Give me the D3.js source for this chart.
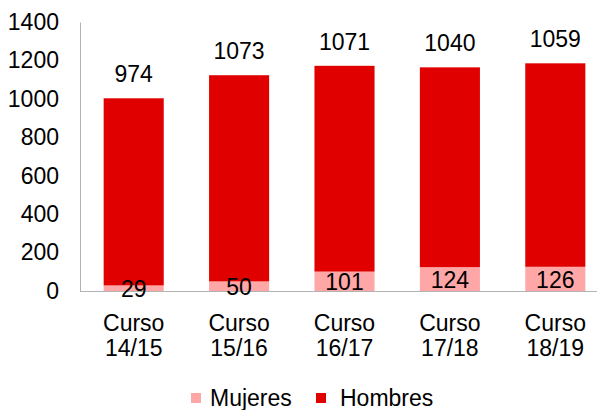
<!DOCTYPE html>
<html>
<head>
<meta charset="utf-8">
<script src="https://cdn.jsdelivr.net/npm/d3@7"></script>
<style>
  body { margin: 0; background: #fff; }
  svg { display: block; font-family: "Liberation Sans", Arial, sans-serif; }
</style>
</head>
<body>
<svg id="chart" width="606" height="410"></svg>
<script>
// datos
const cursos = ['Curso 14/15', 'Curso 15/16', 'Curso 16/17', 'Curso 17/18', 'Curso 18/19'];
const mujeres = [29, 50, 101, 124, 126];
const hombres = [974, 1073, 1071, 1040, 1059];
const yTicks = [0, 200, 400, 600, 800, 1000, 1200, 1400];
const series = ['Mujeres', 'Hombres'];

const colors = { Mujeres: '#ffa6a6', Hombres: '#e00000' };
const fontSize = '23px';

const svg = d3.select('#chart');

const x = d3.scaleBand()
  .domain(cursos)
  .range([81, 608])
  .paddingInner(0.43)
  .paddingOuter(0.215);

const y = d3.scaleLinear()
  .domain([0, 1400])
  .range([291, 22]);

// tabla para el apilado
const table = cursos.map((c, i) => ({ curso: c, Mujeres: mujeres[i], Hombres: hombres[i] }));
const stacked = d3.stack().keys(series)(table);

// eje Y
const yAxis = svg.append('g')
  .attr('transform', 'translate(80,0)')
  .call(d3.axisLeft(y).tickValues(yTicks).tickFormat(d3.format('d')).tickSize(0).tickPadding(21));
yAxis.select('.domain').attr('stroke', '#b3b3b3').attr('stroke-width', 1);
yAxis.selectAll('text').style('font-size', fontSize).attr('fill', '#000');

// línea base
svg.append('line')
  .attr('x1', 80).attr('x2', 597)
  .attr('y1', y(0) + 0.5).attr('y2', y(0) + 0.5)
  .attr('stroke', '#b3b3b3');

// barras
const layers = svg.append('g').selectAll('g')
  .data(stacked)
  .enter()
  .append('g')
  .attr('fill', d => colors[d.key]);

layers.selectAll('rect')
  .data(d => d)
  .enter()
  .append('rect')
  .attr('x', d => x(d.data.curso))
  .attr('width', x.bandwidth())
  .attr('y', d => y(d[1]))
  .attr('height', d => y(d[0]) - y(d[1]));

// etiquetas Mujeres (centradas en el segmento)
svg.append('g').selectAll('text')
  .data(stacked[0])
  .enter()
  .append('text')
  .attr('x', d => x(d.data.curso) + x.bandwidth() / 2)
  .attr('y', d => (y(d[0]) + y(d[1])) / 2 + 9)
  .attr('text-anchor', 'middle')
  .style('font-size', fontSize)
  .text(d => d.data.Mujeres);

// etiquetas Hombres (encima de la barra)
svg.append('g').selectAll('text')
  .data(stacked[1])
  .enter()
  .append('text')
  .attr('x', d => x(d.data.curso) + x.bandwidth() / 2)
  .attr('y', d => y(d[1]) - 16)
  .attr('text-anchor', 'middle')
  .style('font-size', fontSize)
  .text(d => d.data.Hombres);

// categorías en dos líneas
const cat = svg.append('g').selectAll('text')
  .data(cursos)
  .enter()
  .append('text')
  .attr('x', d => x(d) + x.bandwidth() / 2)
  .attr('y', 331)
  .attr('text-anchor', 'middle')
  .style('font-size', fontSize);
cat.each(function(d) {
  const parts = d.split(' ');
  const t = d3.select(this);
  parts.forEach((p, i) => {
    t.append('tspan')
      .attr('x', x(d) + x.bandwidth() / 2)
      .attr('dy', i === 0 ? 0 : 25)
      .text(p);
  });
});

// leyenda
const legendX = [191, 316];
const legendGap = [19, 24];
const legend = svg.append('g').selectAll('g')
  .data(series)
  .enter()
  .append('g')
  .attr('transform', (d, i) => `translate(${legendX[i]},393)`);
legend.append('rect')
  .attr('width', 10).attr('height', 10)
  .attr('fill', d => colors[d]);
legend.append('text')
  .attr('x', (d, i) => legendGap[i]).attr('y', 13)
  .style('font-size', fontSize)
  .text(d => d);
</script>
</body>
</html>
